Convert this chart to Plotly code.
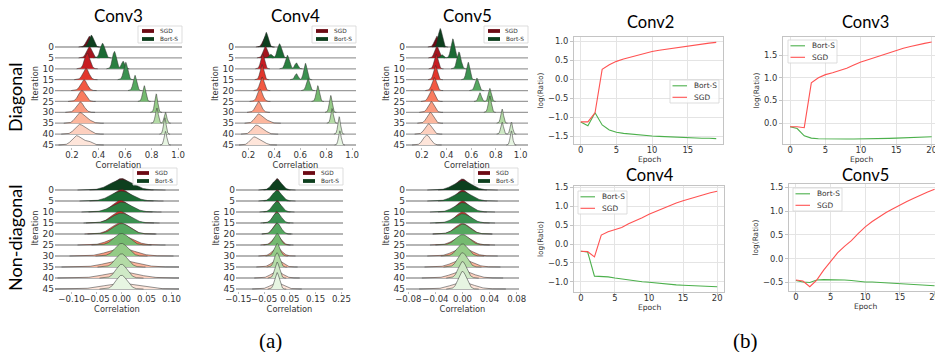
import numpy as np
import plotly.graph_objects as go

W, H = 935, 352

# ---------------- data ----------------
ITERATION_LABELS = ["0", "5", "10", "15", "20", "25", "30", "35", "40", "45"]

# ridge fill colours per iteration (dark -> light)
SGD_COLORS = ["#6d0a14", "#a5141d", "#c81b21", "#e2362b", "#f25841",
              "#f97b5e", "#fb9b80", "#fcb79e", "#fdd0bf", "#fee5da"]
BORT_COLORS = ["#0d3f1e", "#1b6a34", "#2a7f40", "#3b9151", "#55a860",
               "#75ba70", "#95cb87", "#b4dba6", "#cfe9c6", "#e7f5e2"]

# (a) Diagonal - Conv3 : peak location / spread / height (in row units) per iteration
C3D_SGD_PEAK = [0.330, 0.330, 0.315, 0.305, 0.290, 0.275, 0.262, 0.258, 0.255, 0.235]
C3D_SGD_WIDTH = [0.020, 0.020, 0.020, 0.022, 0.024, 0.026, 0.028, 0.030, 0.034, 0.034]
C3D_SGD_HEIGHT = [1.00, 1.05, 1.45, 1.05, 1.00, 1.00, 0.95, 0.95, 0.85, 0.85]
C3D_SGD_BUMPS = [(7, 0.320, 0.030, 0.30), (8, 0.320, 0.030, 0.35), (9, 0.320, 0.030, 0.35)]
C3D_BORT_PEAK = [0.345, 0.430, 0.520, 0.605, 0.675, 0.745, 0.835, 0.840, 0.900, 0.905]
C3D_BORT_WIDTH = [0.018, 0.017, 0.015, 0.015, 0.013, 0.012, 0.011, 0.011, 0.010, 0.010]
C3D_BORT_HEIGHT = [1.10, 1.35, 1.60, 1.60, 1.40, 1.45, 1.70, 1.40, 1.50, 1.25]
C3D_BORT_BUMPS = [(2, 0.585, 0.012, 0.70), (7, 0.905, 0.010, 1.00)]

# (a) Diagonal - Conv4
C4D_SGD_PEAK = [0.330, 0.330, 0.310, 0.305, 0.305, 0.290, 0.278, 0.275, 0.255, 0.240]
C4D_SGD_WIDTH = [0.018, 0.016, 0.014, 0.014, 0.016, 0.020, 0.022, 0.026, 0.028, 0.028]
C4D_SGD_HEIGHT = [1.00, 1.10, 1.40, 1.40, 1.25, 1.10, 1.00, 0.80, 0.75, 0.70]
C4D_SGD_BUMPS = [(7, 0.330, 0.030, 0.30), (8, 0.310, 0.030, 0.40), (9, 0.300, 0.030, 0.35)]
C4D_BORT_PEAK = [0.337, 0.440, 0.500, 0.640, 0.660, 0.735, 0.835, 0.845, 0.900, 0.905]
C4D_BORT_WIDTH = [0.016, 0.016, 0.015, 0.013, 0.013, 0.012, 0.011, 0.010, 0.010, 0.010]
C4D_BORT_HEIGHT = [1.35, 1.30, 1.25, 1.50, 1.10, 1.45, 1.55, 1.35, 1.60, 1.30]
C4D_BORT_BUMPS = [(1, 0.370, 0.012, 0.35), (2, 0.570, 0.012, 0.55), (3, 0.570, 0.012, 0.55)]

# (a) Diagonal - Conv5
C5D_SGD_PEAK = [0.320, 0.320, 0.315, 0.310, 0.300, 0.280, 0.275, 0.267, 0.253, 0.240]
C5D_SGD_WIDTH = [0.018, 0.017, 0.015, 0.015, 0.018, 0.022, 0.024, 0.026, 0.028, 0.030]
C5D_SGD_HEIGHT = [1.00, 1.10, 1.35, 1.30, 1.20, 1.10, 1.00, 1.00, 0.95, 0.90]
C5D_SGD_BUMPS = []
C5D_BORT_PEAK = [0.348, 0.450, 0.500, 0.575, 0.645, 0.750, 0.750, 0.850, 0.850, 0.925]
C5D_BORT_WIDTH = [0.016, 0.015, 0.016, 0.014, 0.015, 0.012, 0.012, 0.011, 0.011, 0.010]
C5D_BORT_HEIGHT = [1.70, 1.75, 1.55, 1.60, 1.15, 1.20, 1.50, 1.30, 1.10, 1.30]
C5D_BORT_BUMPS = [(1, 0.360, 0.012, 0.30), (5, 0.670, 0.012, 0.80), (8, 0.925, 0.010, 1.10)]

# (a) Non-diagonal - Conv3
C3N_SGD_PEAK = [0.000, 0.000, -0.002, -0.003, -0.002, 0.000, 0.000, 0.000, 0.000, 0.000]
C3N_SGD_WIDTH = [0.016, 0.016, 0.016, 0.017, 0.018, 0.022, 0.026, 0.030, 0.032, 0.034]
C3N_SGD_HEIGHT = [1.05, 1.05, 1.05, 1.05, 1.00, 0.85, 0.70, 0.60, 0.55, 0.50]
C3N_SGD_BUMPS = []
C3N_BORT_PEAK = [0.000, 0.000, 0.000, 0.000, 0.000, 0.000, 0.000, 0.000, 0.000, 0.000]
C3N_BORT_WIDTH = [0.022, 0.021, 0.020, 0.019, 0.017, 0.015, 0.013, 0.012, 0.011, 0.011]
C3N_BORT_HEIGHT = [0.95, 0.90, 0.90, 0.90, 0.95, 1.05, 1.15, 1.20, 1.25, 1.25]
C3N_BORT_BUMPS = []

# (a) Non-diagonal - Conv4
C4N_SGD_PEAK = [0.000, 0.000, 0.000, -0.002, -0.002, 0.000, 0.000, 0.000, 0.000, 0.000]
C4N_SGD_WIDTH = [0.013, 0.013, 0.013, 0.013, 0.014, 0.016, 0.018, 0.020, 0.022, 0.024]
C4N_SGD_HEIGHT = [1.05, 1.05, 1.05, 1.05, 1.00, 0.85, 0.75, 0.65, 0.60, 0.55]
C4N_SGD_BUMPS = []
C4N_BORT_PEAK = [0.000, 0.000, 0.000, 0.000, 0.000, 0.000, 0.000, 0.000, 0.000, 0.000]
C4N_BORT_WIDTH = [0.018, 0.018, 0.017, 0.016, 0.015, 0.013, 0.011, 0.010, 0.009, 0.009]
C4N_BORT_HEIGHT = [0.95, 0.95, 0.95, 0.95, 1.00, 1.05, 1.15, 1.30, 1.45, 1.50]
C4N_BORT_BUMPS = []

# (a) Non-diagonal - Conv5
C5N_SGD_PEAK = [0.000, 0.000, 0.000, 0.000, 0.000, 0.000, 0.000, 0.000, 0.000, 0.000]
C5N_SGD_WIDTH = [0.009, 0.009, 0.009, 0.010, 0.011, 0.012, 0.013, 0.014, 0.015, 0.016]
C5N_SGD_HEIGHT = [1.00, 1.00, 1.00, 1.00, 0.95, 0.85, 0.75, 0.70, 0.65, 0.60]
C5N_SGD_BUMPS = []
C5N_BORT_PEAK = [0.000, 0.000, 0.000, 0.000, 0.000, 0.000, 0.000, 0.000, 0.000, 0.000]
C5N_BORT_WIDTH = [0.013, 0.013, 0.012, 0.012, 0.011, 0.010, 0.008, 0.007, 0.006, 0.006]
C5N_BORT_HEIGHT = [0.85, 0.85, 0.85, 0.85, 0.90, 0.95, 1.10, 1.30, 1.50, 1.60]
C5N_BORT_BUMPS = []

# (b) log(Ratio) per epoch
EPOCHS_20 = [0, 1, 2, 3, 4, 5, 6, 7, 8, 9, 10, 11, 12, 13, 14, 15, 16, 17, 18, 19]
EPOCHS_21 = [0, 1, 2, 3, 4, 5, 6, 7, 8, 9, 10, 11, 12, 13, 14, 15, 16, 17, 18, 19, 20]
CONV2_BORT = [-1.12, -1.22, -0.88, -1.20, -1.33, -1.39, -1.42, -1.44, -1.46, -1.47,
              -1.49, -1.50, -1.51, -1.52, -1.52, -1.53, -1.54, -1.55, -1.55, -1.56]
CONV2_SGD = [-1.12, -1.12, -0.88, 0.26, 0.38, 0.47, 0.53, 0.58, 0.63, 0.68,
             0.73, 0.76, 0.79, 0.82, 0.85, 0.88, 0.90, 0.93, 0.95, 0.97]
CONV3_BORT = [-0.08, -0.12, -0.28, -0.33, -0.345, -0.35, -0.35, -0.35, -0.35, -0.35, -0.35,
              -0.345, -0.34, -0.34, -0.335, -0.33, -0.325, -0.32, -0.315, -0.31, -0.30]
CONV3_SGD = [-0.08, -0.08, -0.10, 0.89, 1.00, 1.07, 1.11, 1.16, 1.21, 1.28, 1.35,
             1.40, 1.45, 1.50, 1.56, 1.61, 1.65, 1.69, 1.73, 1.76, 1.79]
CONV4_BORT = [-0.19, -0.21, -0.85, -0.86, -0.87, -0.90, -0.93, -0.96, -0.98, -1.00, -1.01,
              -1.03, -1.05, -1.06, -1.08, -1.09, -1.10, -1.11, -1.12, -1.12, -1.13]
CONV4_SGD = [-0.19, -0.20, -0.34, 0.24, 0.33, 0.39, 0.44, 0.54, 0.61, 0.70, 0.79,
             0.87, 0.95, 1.02, 1.09, 1.15, 1.21, 1.26, 1.31, 1.36, 1.40]
CONV5_BORT = [-0.46, -0.49, -0.50, -0.45, -0.44, -0.44, -0.44, -0.45, -0.46, -0.48, -0.49,
              -0.49, -0.50, -0.51, -0.51, -0.52, -0.53, -0.54, -0.55, -0.56, -0.57]
CONV5_SGD = [-0.45, -0.47, -0.59, -0.45, -0.24, -0.06, 0.12, 0.26, 0.38, 0.53, 0.67,
             0.78, 0.88, 0.97, 1.05, 1.13, 1.20, 1.27, 1.34, 1.40, 1.46]

# ---------------- layout helpers ----------------
FONT = "DejaVu Sans"
TITLE_FONT = "Lato, 'Open Sans', sans-serif"


def fx(p):
    return p / W


def fy(p):
    return 1 - p / H


def gauss(xs, c, w, h):
    return h * np.exp(-0.5 * ((xs - c) / w) ** 2)


def ridge_profile(i, peaks, widths, heights, bumps, xr):
    comps = [(peaks[i], widths[i], heights[i])] + [(c, w, h) for (r, c, w, h) in bumps if r == i]
    lo = max(xr[0], min(c - 4 * w for c, w, h in comps))
    hi = min(xr[1], max(c + 4 * w for c, w, h in comps))
    xs = np.linspace(lo, hi, 220)
    ys = sum(gauss(xs, c, w, h) for c, w, h in comps)
    return xs, ys


def ax_key(letter, k):
    return f"{letter}axis" + ("" if k == 1 else str(k))


def ax_ref(letter, k):
    return letter + ("" if k == 1 else str(k))


def note(text, x, y, size, family=FONT, color="#333", angle=0, xanchor="center"):
    return dict(text=text, x=fx(x), y=fy(y), xref="paper", yref="paper", showarrow=False,
                xanchor=xanchor, yanchor="middle", textangle=angle,
                font=dict(family=family, size=size, color=color))


ROW_GEOM = {
    1: dict(base0=47, base9=145, top=20, bot=147),
    2: dict(base0=190, base9=289, top=165, bot=291),
}

RIDGE_PANELS = [
    dict(k=1, row=1, px=(55, 182), xr=(0.072, 1.03), ticks=[0.2, 0.4, 0.6, 0.8, 1.0], fmt=".1f",
         title="Conv3", leg=(182, 26),
         sgd=(C3D_SGD_PEAK, C3D_SGD_WIDTH, C3D_SGD_HEIGHT, C3D_SGD_BUMPS),
         bort=(C3D_BORT_PEAK, C3D_BORT_WIDTH, C3D_BORT_HEIGHT, C3D_BORT_BUMPS)),
    dict(k=2, row=1, px=(235, 356), xr=(0.097, 1.03), ticks=[0.2, 0.4, 0.6, 0.8, 1.0], fmt=".1f",
         title="Conv4", leg=(356, 26),
         sgd=(C4D_SGD_PEAK, C4D_SGD_WIDTH, C4D_SGD_HEIGHT, C4D_SGD_BUMPS),
         bort=(C4D_BORT_PEAK, C4D_BORT_WIDTH, C4D_BORT_HEIGHT, C4D_BORT_BUMPS)),
    dict(k=3, row=1, px=(406, 528), xr=(0.071, 1.06), ticks=[0.2, 0.4, 0.6, 0.8, 1.0], fmt=".1f",
         title="Conv5", leg=(528, 26),
         sgd=(C5D_SGD_PEAK, C5D_SGD_WIDTH, C5D_SGD_HEIGHT, C5D_SGD_BUMPS),
         bort=(C5D_BORT_PEAK, C5D_BORT_WIDTH, C5D_BORT_HEIGHT, C5D_BORT_BUMPS)),
    dict(k=4, row=2, px=(55, 179), xr=(-0.133, 0.115), ticks=[-0.10, -0.05, 0.0, 0.05, 0.10], fmt=".2f",
         title=None, leg=(177, 168),
         sgd=(C3N_SGD_PEAK, C3N_SGD_WIDTH, C3N_SGD_HEIGHT, C3N_SGD_BUMPS),
         bort=(C3N_BORT_PEAK, C3N_BORT_WIDTH, C3N_BORT_HEIGHT, C3N_BORT_BUMPS)),
    dict(k=5, row=2, px=(236, 343), xr=(-0.159, 0.256), ticks=[-0.15, -0.05, 0.05, 0.15, 0.25], fmt=".2f",
         title=None, leg=(343, 168),
         sgd=(C4N_SGD_PEAK, C4N_SGD_WIDTH, C4N_SGD_HEIGHT, C4N_SGD_BUMPS),
         bort=(C4N_BORT_PEAK, C4N_BORT_WIDTH, C4N_BORT_HEIGHT, C4N_BORT_BUMPS)),
    dict(k=6, row=2, px=(406, 519), xr=(-0.0834, 0.0834), ticks=[-0.08, -0.04, 0.0, 0.04, 0.08], fmt=".2f",
         title=None, leg=(518, 168),
         sgd=(C5N_SGD_PEAK, C5N_SGD_WIDTH, C5N_SGD_HEIGHT, C5N_SGD_BUMPS),
         bort=(C5N_BORT_PEAK, C5N_BORT_WIDTH, C5N_BORT_HEIGHT, C5N_BORT_BUMPS)),
]

LINE_PANELS = [
    dict(k=7, px=(574, 723), py=(37, 144), xr=(-0.95, 19.95), yr=(-1.70, 1.11),
         xt=[0, 5, 10, 15], yt=[-1.5, -1.0, -0.5, 0.0, 0.5, 1.0], title="Conv2", tpos=(650, 22),
         xlab=(649, 159.5), x=EPOCHS_20, bort=CONV2_BORT, sgd=CONV2_SGD, leg=(670, 80)),
    dict(k=8, px=(783, 935), py=(37, 144), xr=(-1.0, 20.47), yr=(-0.46, 1.90),
         xt=[0, 5, 10, 15, 20], yt=[0.0, 0.5, 1.0, 1.5], title="Conv3", tpos=(865, 22),
         xlab=(861, 159.5), x=EPOCHS_21, bort=CONV3_BORT, sgd=CONV3_SGD, leg=(788, 40)),
    dict(k=9, px=(574, 724), py=(186, 292), xr=(-1.0, 21.0), yr=(-1.27, 1.54),
         xt=[0, 5, 10, 15, 20], yt=[-1.0, -0.5, 0.0, 0.5, 1.0, 1.5], title="Conv4", tpos=(650, 175),
         xlab=(649, 307.5), x=EPOCHS_21, bort=CONV4_BORT, sgd=CONV4_SGD, leg=(578, 191)),
    dict(k=10, px=(789, 935), py=(184, 291), xr=(-1.0, 20.06), yr=(-0.68, 1.57),
         xt=[0, 5, 10, 15, 20], yt=[-0.5, 0.0, 0.5, 1.0, 1.5], title="Conv5", tpos=(865, 175),
         xlab=(865, 306.5), x=EPOCHS_21, bort=CONV5_BORT, sgd=CONV5_SGD, leg=(793, 188)),
]

GREEN = "#4cb04c"
RED = "#ff5252"

fig = go.Figure()
layout = {}
shapes = []
annotations = []

# ---------------- ridge panels ----------------
for p in RIDGE_PANELS:
    k = p["k"]
    g = ROW_GEOM[p["row"]]
    unit = (g["base9"] - g["base0"]) / 9.0
    yr = [-9 - (g["bot"] - g["base9"]) / unit, (g["base0"] - g["top"]) / unit]
    xr = p["xr"]
    xref, yref = ax_ref("x", k), ax_ref("y", k)

    # baselines
    bx, by = [], []
    for i in range(len(ITERATION_LABELS)):
        bx += [xr[0], xr[1], None]
        by += [-i, -i, None]
    fig.add_trace(go.Scatter(x=bx, y=by, mode="lines", line=dict(color="#9c9c9c", width=1.3),
                             xaxis=xref, yaxis=yref, hoverinfo="skip", showlegend=False))

    for i in range(len(ITERATION_LABELS)):
        for key, cols, name in (("sgd", SGD_COLORS, "SGD"), ("bort", BORT_COLORS, "Bort-S")):
            peaks, widths, heights, bumps = p[key]
            xs, ys = ridge_profile(i, peaks, widths, heights, bumps, xr)
            xx = [xs[0]] + list(xs) + [xs[-1]]
            yy = [-i] + list(-i + ys) + [-i]
            fig.add_trace(go.Scatter(x=xx, y=yy, mode="lines", fill="toself",
                                     fillcolor=cols[i], line=dict(color="rgba(45,45,45,0.85)", width=0.6),
                                     xaxis=xref, yaxis=yref, hoverinfo="skip",
                                     name=name, showlegend=False))

    layout[ax_key("x", k)] = dict(
        domain=[fx(p["px"][0]), fx(p["px"][1])], range=list(xr), anchor=yref, automargin=False,
        tickvals=p["ticks"], tickformat=p["fmt"], tickangle=0, showgrid=False, zeroline=False, showline=False,
        ticks="outside", ticklen=2, tickcolor="#bbbbbb", ticklabelstandoff=-2, ticklabeloverflow="allow",
        tickfont=dict(family=FONT, size=8.6, color="#333"),
        title=dict(text="Correlation", font=dict(family=FONT, size=8.3, color="#333"), standoff=0))
    layout[ax_key("y", k)] = dict(
        domain=[fy(g["bot"]), fy(g["top"])], range=yr, anchor=xref, automargin=False,
        tickvals=[-i for i in range(len(ITERATION_LABELS))], ticktext=ITERATION_LABELS,
        showgrid=False, zeroline=False, showline=False, ticks="",
        tickfont=dict(family=FONT, size=9, color="#333"),
        title=dict(text="Iteration", font=dict(family=FONT, size=8.3, color="#333"), standoff=2))

    if p["title"]:
        annotations.append(note(p["title"], (p["px"][0] + p["px"][1]) / 2, 16, 17, TITLE_FONT, "black"))

    # small legend (matplotlib style)
    rx, ty = p["leg"]
    lx = rx - 44
    shapes.append(dict(type="rect", xref="paper", yref="paper", x0=fx(lx), x1=fx(rx), y0=fy(ty + 17), y1=fy(ty),
                       fillcolor="rgba(255,255,255,0.85)", line=dict(color="#d4d4d4", width=0.8), layer="above"))
    for j, (name, col) in enumerate((("SGD", SGD_COLORS[0]), ("Bort-S", BORT_COLORS[0]))):
        cy = ty + 5 + j * 8.0
        shapes.append(dict(type="rect", xref="paper", yref="paper", x0=fx(lx + 4), x1=fx(lx + 16),
                           y0=fy(cy + 1.9), y1=fy(cy - 1.9), fillcolor=col, line=dict(width=0), layer="above"))
        annotations.append(note(name, lx + 19.5, cy, 5.8, xanchor="left"))

# ---------------- line panels ----------------
for p in LINE_PANELS:
    k = p["k"]
    xref, yref = ax_ref("x", k), ax_ref("y", k)
    fig.add_trace(go.Scatter(x=p["x"], y=p["bort"], mode="lines", name="Bort-S",
                             line=dict(color=GREEN, width=1.1), xaxis=xref, yaxis=yref, showlegend=False))
    fig.add_trace(go.Scatter(x=p["x"], y=p["sgd"], mode="lines", name="SGD",
                             line=dict(color=RED, width=1.1), xaxis=xref, yaxis=yref, showlegend=False))
    layout[ax_key("x", k)] = dict(
        domain=[fx(p["px"][0]), fx(p["px"][1])], range=list(p["xr"]), anchor=yref, automargin=False,
        tickvals=p["xt"], tickangle=0, showgrid=True, gridcolor="#e4e4e4", gridwidth=1, zeroline=False,
        showline=True, mirror=True, linecolor="#c4c4c4", linewidth=1,
        ticks="outside", ticklen=3, tickcolor="#c4c4c4", ticklabelstandoff=-5, ticklabeloverflow="allow",
        tickfont=dict(family=FONT, size=8.4, color="#333"))
    layout[ax_key("y", k)] = dict(
        domain=[fy(p["py"][1]), fy(p["py"][0])], range=list(p["yr"]), anchor=xref, automargin=False,
        tickvals=p["yt"], tickformat=".1f", showgrid=True, gridcolor="#e4e4e4", gridwidth=1, zeroline=False,
        showline=True, mirror=True, linecolor="#c4c4c4", linewidth=1,
        ticks="outside", ticklen=3, tickcolor="#c4c4c4",
        tickfont=dict(family=FONT, size=8.4, color="#333"),
        title=dict(text="log(Ratio)", font=dict(family=FONT, size=7.4, color="#333"), standoff=3))
    # x-axis caption placed just under the tick labels (as in the reference)
    annotations.append(note("Epoch", p["xlab"][0], p["xlab"][1], 7.6))
    annotations.append(note(p["title"], p["tpos"][0], p["tpos"][1], 16.5, TITLE_FONT, "black"))

    lx, ty = p["leg"]
    shapes.append(dict(type="rect", xref="paper", yref="paper", x0=fx(lx), x1=fx(lx + 49), y0=fy(ty + 23), y1=fy(ty),
                       fillcolor="rgba(255,255,255,0.85)", line=dict(color="#d4d4d4", width=0.8), layer="above"))
    for j, (name, col) in enumerate((("Bort-S", GREEN), ("SGD", RED))):
        cy = ty + 5.8 + j * 11.5
        shapes.append(dict(type="line", xref="paper", yref="paper", x0=fx(lx + 2.5), x1=fx(lx + 17),
                           y0=fy(cy), y1=fy(cy), line=dict(color=col, width=1.1), layer="above"))
        annotations.append(note(name, lx + 22, cy, 7.4, xanchor="left"))

# ---------------- row labels and sub-figure captions ----------------
annotations.append(note("Diagonal", 15, 98, 18, TITLE_FONT, "black", angle=-90))
annotations.append(note("Non-diagonal", 15, 238, 18, TITLE_FONT, "black", angle=-90))
annotations.append(note("(a)", 270, 341, 21, "Liberation Serif", "black"))
annotations.append(note("(b)", 745, 341, 21, "Liberation Serif", "black"))

fig.update_layout(
    width=W, height=H, autosize=False,
    margin=dict(l=0, r=0, t=0, b=0, pad=0, autoexpand=False),
    paper_bgcolor="white", plot_bgcolor="white",
    showlegend=False,
    shapes=shapes, annotations=annotations,
    font=dict(family=FONT, color="#333"),
    **layout,
)

fig.write_html("out.html", config={"displayModeBar": False},
               post_script="document.body.style.margin='0px';document.body.style.padding='0px';")
